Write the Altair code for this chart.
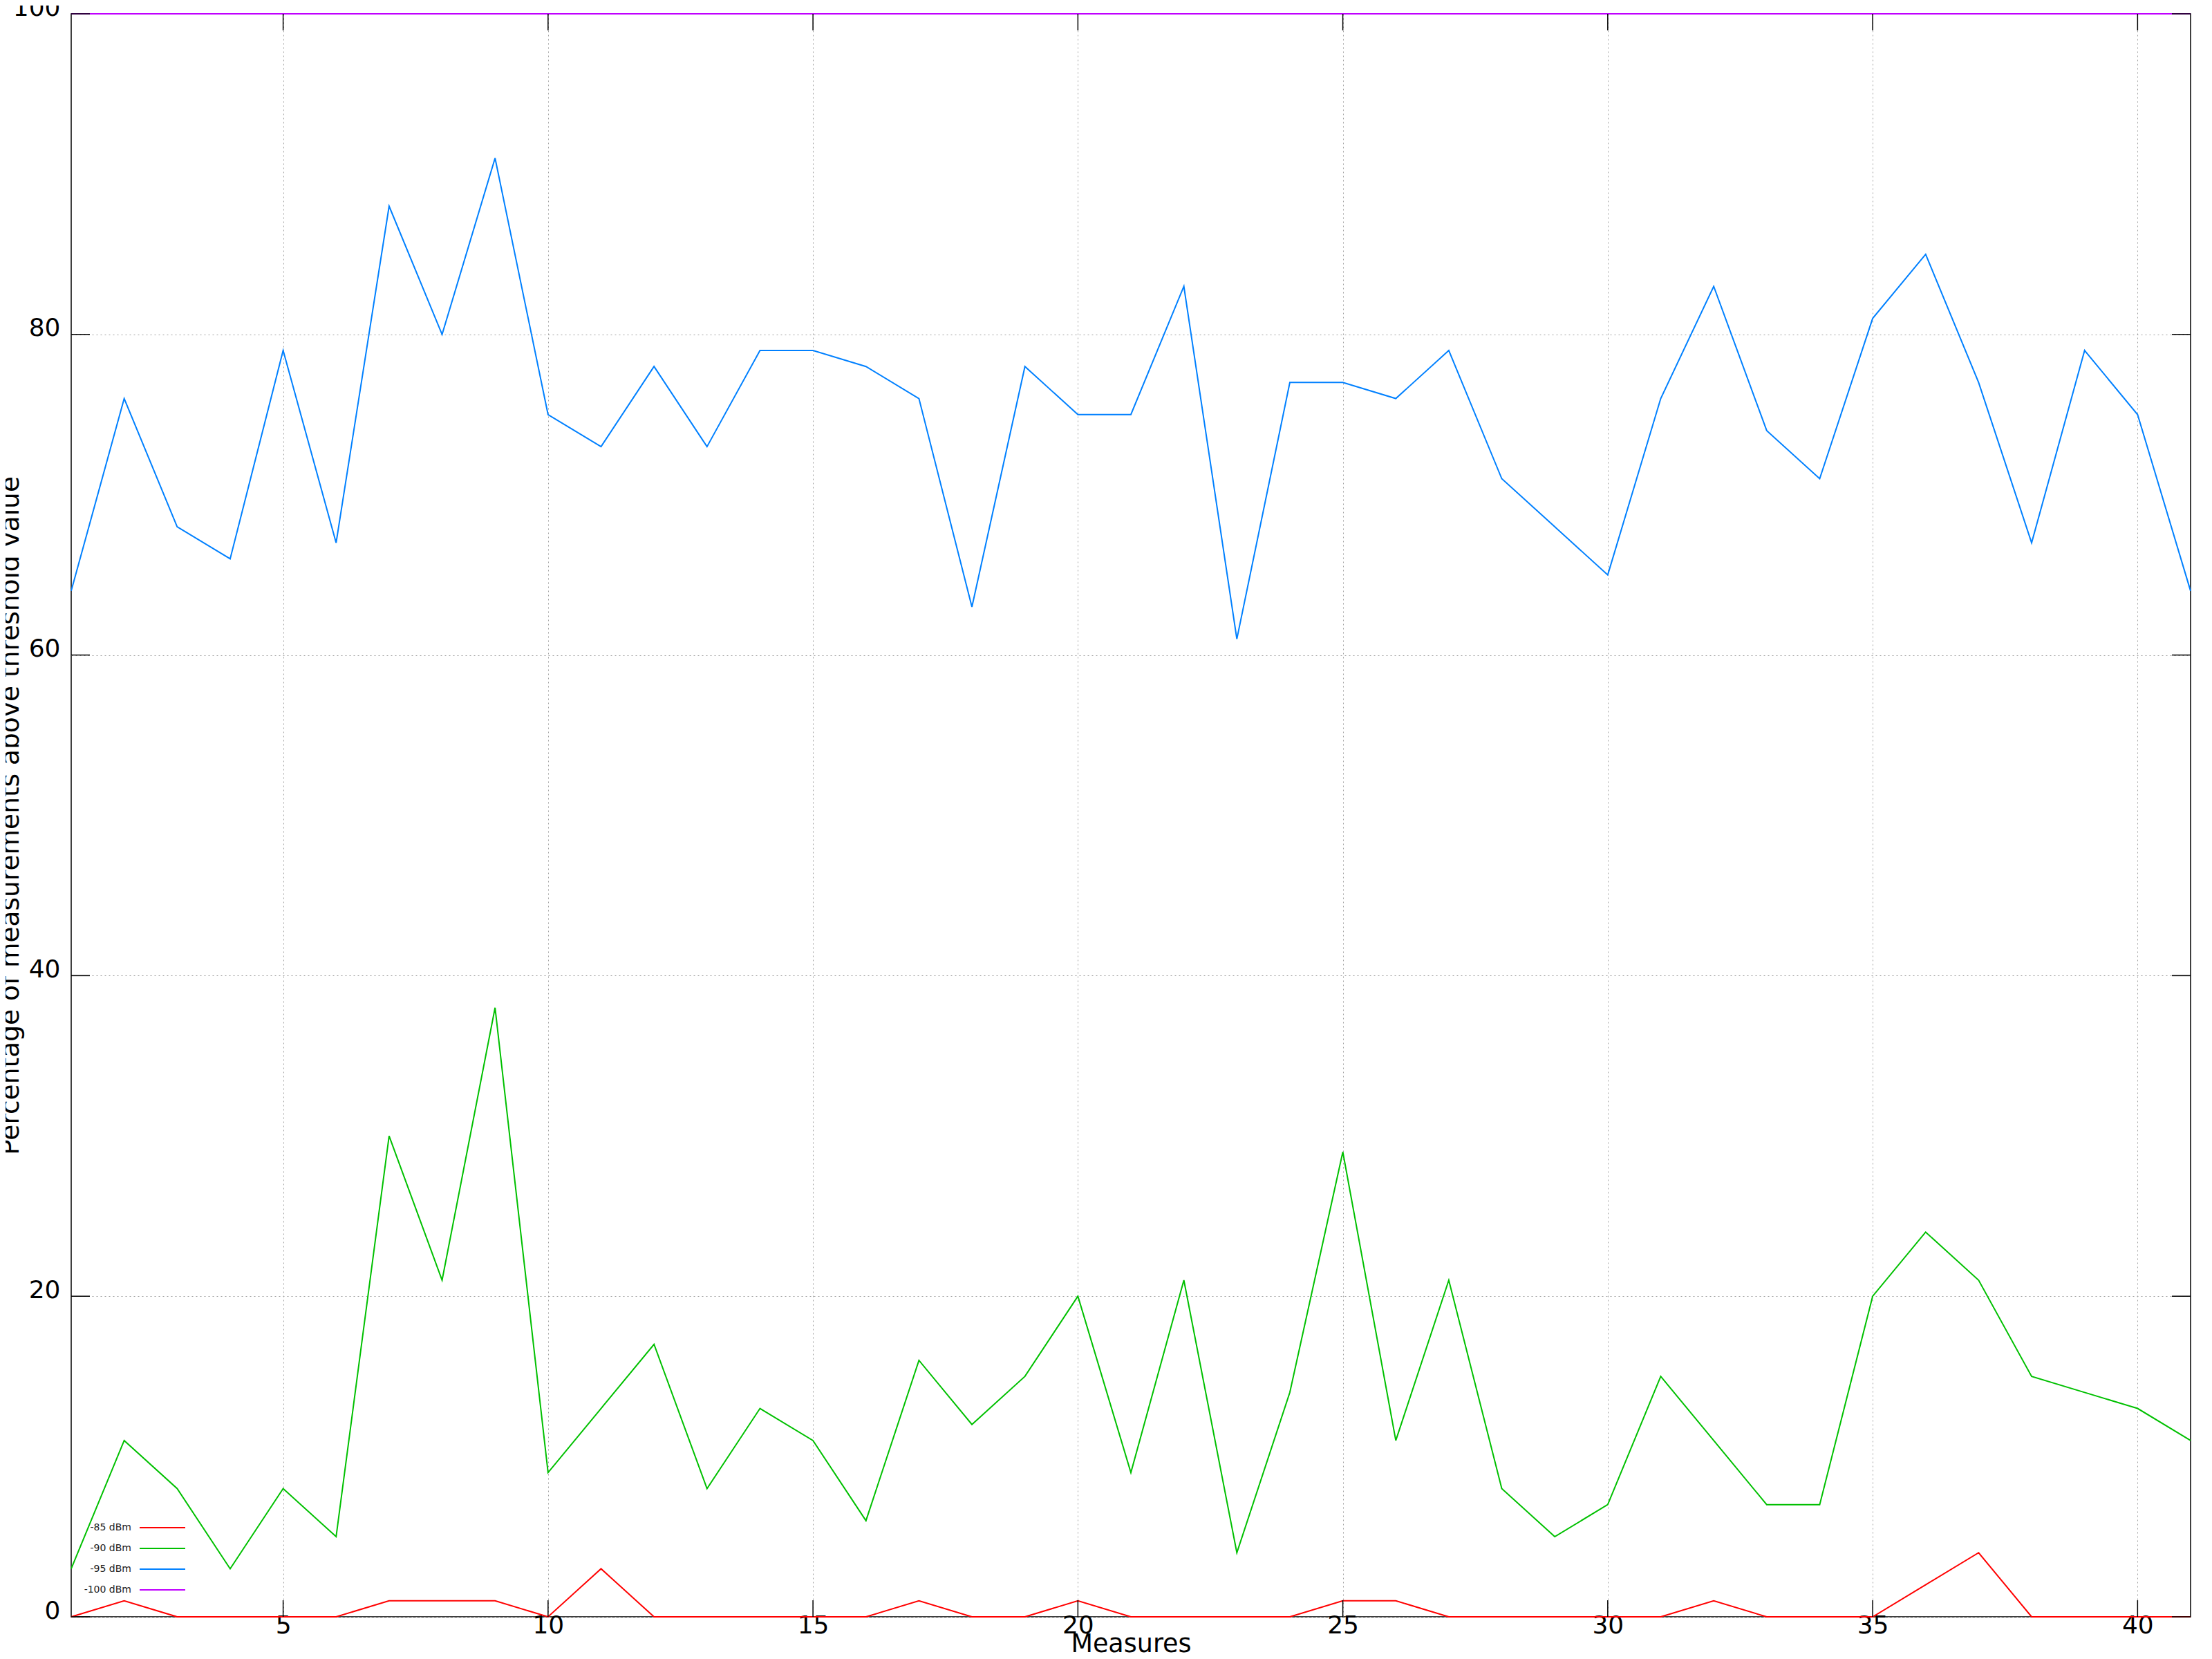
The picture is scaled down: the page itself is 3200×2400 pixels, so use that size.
import altair as alt
import pandas as pd

measures = list(range(1, 42))

series_labels = ["-85 dBm", "-90 dBm", "-95 dBm", "-100 dBm"]
series_colors = ["#ff0000", "#00c000", "#0080ff", "#c000ff"]

vals_85 = [0, 1, 0, 0, 0, 0, 1, 1, 1, 0,
           3, 0, 0, 0, 0, 0, 1, 0, 0, 1,
           0, 0, 0, 0, 1, 1, 0, 0, 0, 0,
           0, 1, 0, 0, 0, 2, 4, 0, 0, 0, 0]
vals_90 = [3, 11, 8, 3, 8, 5, 30, 21, 38, 9,
           13, 17, 8, 13, 11, 6, 16, 12, 15, 20,
           9, 21, 4, 14, 29, 11, 21, 8, 5, 7,
           15, 11, 7, 7, 20, 24, 21, 15, 14, 13, 11]
vals_95 = [64, 76, 68, 66, 79, 67, 88, 80, 91, 75,
           73, 78, 73, 79, 79, 78, 76, 63, 78, 75,
           75, 83, 61, 77, 77, 76, 79, 71, 68, 65,
           76, 83, 74, 71, 81, 85, 77, 67, 79, 75, 64]
vals_100 = [100] * 41

x_tick_values = [5, 10, 15, 20, 25, 30, 35, 40]
y_tick_values = [0, 20, 40, 60, 80, 100]

x_title = "Measures"
y_title = "Percentage of measurements above threshold value"

W, H = 3066, 2319

rows = []
for lab, vals in zip(series_labels, [vals_85, vals_90, vals_95, vals_100]):
    for m, v in zip(measures, vals):
        rows.append({"series": lab, "measure": m, "value": v})
df = pd.DataFrame(rows)

color_scale = alt.Scale(domain=series_labels, range=series_colors)
x_scale = alt.Scale(domain=[1, 41], nice=False, zero=False)
y_scale = alt.Scale(domain=[0, 100], nice=False, zero=False)

lines = alt.Chart(df).mark_line(strokeWidth=2).encode(
    x=alt.X("measure:Q", scale=x_scale, title=x_title,
            axis=alt.Axis(values=x_tick_values, format="d",
                          grid=True, gridDash=[2, 4], gridColor="#a0a0a0", gridWidth=1,
                          ticks=False, tickSize=0, domain=False,
                          labelFont="DejaVu Sans", labelFontSize=36, labelColor="black",
                          labelPadding=-5, labelBaseline="top",
                          titleFont="DejaVu Sans", titleFontSize=36.5, titleFontWeight="normal",
                          titleColor="black", titleY=50, titleBaseline="alphabetic")),
    y=alt.Y("value:Q", scale=y_scale, title=y_title,
            axis=alt.Axis(values=y_tick_values, format="d",
                          grid=True, gridDash=[2, 4], gridColor="#a0a0a0", gridWidth=1,
                          ticks=False, tickSize=0, domain=False,
                          labelFont="DejaVu Sans", labelFontSize=36, labelColor="black",
                          labelPadding=16, labelOffset=-9, labelBaseline="middle",
                          titleFont="DejaVu Sans", titleFontSize=37.5, titleFontWeight="normal",
                          titleColor="black", titleX=-77, titleY=H / 2, titleAngle=270,
                          titleBaseline="alphabetic", titleAlign="center")),
    color=alt.Color("series:N", scale=color_scale, legend=None),
    order=alt.Order("measure:Q"),
)

xt = pd.DataFrame({"measure": x_tick_values})
yt = pd.DataFrame({"value": y_tick_values})

xtick_bottom = alt.Chart(xt).mark_rule(color="black", strokeWidth=1.5).encode(
    x=alt.X("measure:Q", scale=x_scale, title=x_title),
    y=alt.value(H), y2=alt.value(H - 24))
xtick_top = alt.Chart(xt).mark_rule(color="black", strokeWidth=1.5).encode(
    x=alt.X("measure:Q", scale=x_scale, title=x_title),
    y=alt.value(0), y2=alt.value(24))
ytick_left = alt.Chart(yt).mark_rule(color="black", strokeWidth=1.5).encode(
    y=alt.Y("value:Q", scale=y_scale, title=y_title),
    x=alt.value(0), x2=alt.value(27))
ytick_right = alt.Chart(yt).mark_rule(color="black", strokeWidth=1.5).encode(
    y=alt.Y("value:Q", scale=y_scale, title=y_title),
    x=alt.value(W), x2=alt.value(W - 27))

main = alt.layer(lines, xtick_bottom, xtick_top, ytick_left, ytick_right)

leg_df = pd.DataFrame({"series": series_labels, "row": [0, 1, 2, 3]})
leg_y = alt.Y("row:Q", scale=alt.Scale(domain=[0, 3], range=[2190, 2280]), axis=None)
leg_text = alt.Chart(leg_df).mark_text(align="right", baseline="middle", fontSize=14,
                                       font="DejaVu Sans", color="#222222").encode(
    x=alt.value(87), y=leg_y, text="series:N")
leg_rule = alt.Chart(leg_df).mark_rule(strokeWidth=2).encode(
    x=alt.value(99), x2=alt.value(165), y=leg_y,
    color=alt.Color("series:N", scale=color_scale, legend=None))

chart = alt.layer(main, leg_text, leg_rule).resolve_scale(y="independent").properties(
    width=W, height=H,
    padding={"left": 95, "top": 12, "right": 23, "bottom": 57},
    autosize=alt.AutoSizeParams(type="none"),
    background="white",
).configure_view(stroke="black", strokeWidth=1.5)

chart.save("out.html", embed_options={"renderer": "svg", "actions": False})
